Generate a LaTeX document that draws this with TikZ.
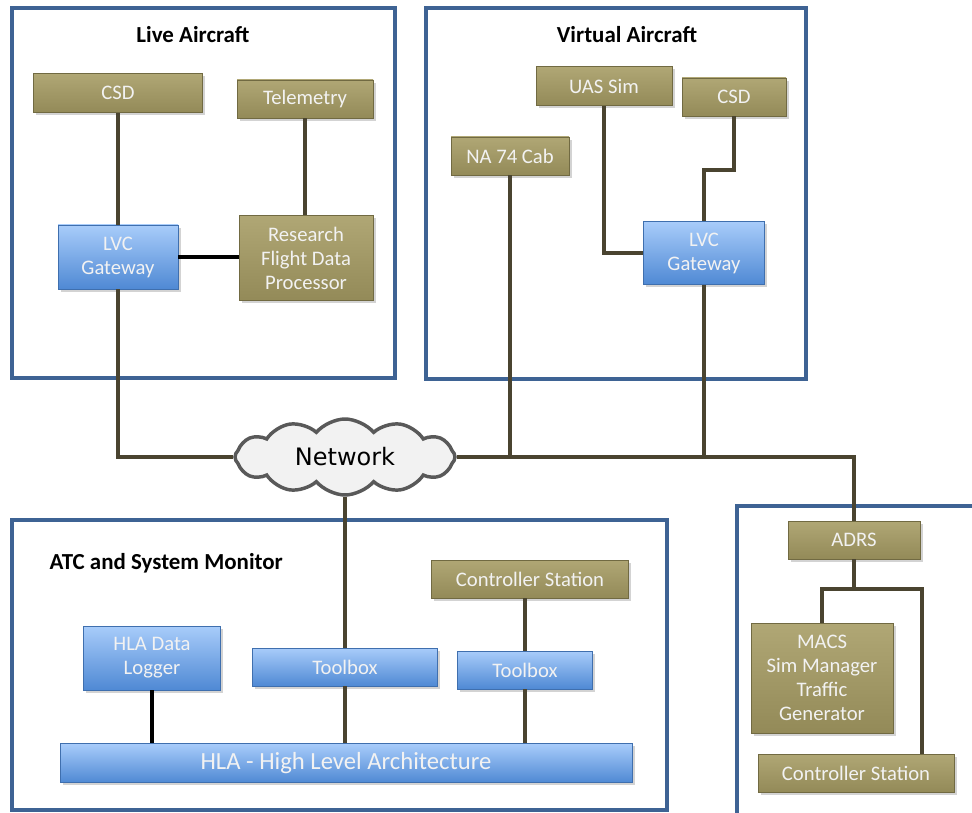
\documentclass[tikz,border=0pt]{standalone}
\usepackage{fontspec}
\setmainfont{Carlito}
\newfontfamily\netfont{DejaVu Sans}
\usetikzlibrary{shapes.symbols,shadows}

\definecolor{panelblue}{HTML}{3E6394}
\definecolor{linkbrown}{HTML}{4A4430}
\definecolor{olivetop}{HTML}{B0A775}
\definecolor{olivemid}{HTML}{9E9661}
\definecolor{olivebot}{HTML}{938A58}
\definecolor{oliveedge}{HTML}{716A42}
\definecolor{bluetop}{HTML}{A8CCFA}
\definecolor{bluemid}{HTML}{7FAEEC}
\definecolor{bluebot}{HTML}{4F89D4}
\definecolor{blueedge}{HTML}{3F6FAE}
\definecolor{cloudgray}{HTML}{595959}

\tikzset{
  panel/.style={draw=panelblue, line width=2.8pt},
  paneltitle/.style={font=\fontsize{17.2}{20}\selectfont\bfseries},
  box/.style={rectangle, align=center, text=white!95!black,
    font=\fontsize{15.5}{18}\selectfont, inner sep=2pt,
    drop shadow={shadow xshift=2pt, shadow yshift=-2pt, opacity=0.35}},
  boxsize/.style 2 args={minimum width=#1*0.75pt, minimum height=#2*0.75pt},
  olivebox/.style={box, draw=oliveedge, line width=0.5pt,
    top color=olivetop, middle color=olivemid, bottom color=olivebot},
  bluebox/.style={box, draw=blueedge, line width=0.5pt,
    top color=bluetop, middle color=bluemid, bottom color=bluebot},
  link/.style={draw=linkbrown, line width=2.4pt},
}

\begin{document}
\begin{tikzpicture}[x=0.75pt,y=-0.75pt]

    \useasboundingbox (0,0) rectangle (972,813);

    % Panels
    \draw[panel] (12,8) rectangle (395,378);
    \draw[panel] (426,8) rectangle (806,379);
    \draw[panel] (12,520) rectangle (667,810);
    \draw[panel] (737,840) -- (737,506) -- (990,506);

    % Panel titles
    \node[paneltitle] (tlive) at (193,35) {Live Aircraft};
    \node[paneltitle] (tvirt) at (627,35) {Virtual Aircraft};
    \node[paneltitle, anchor=west] (tatc) at (45,563) {ATC and System Monitor};

    % Live Aircraft
    \node[olivebox, boxsize={169}{39}] (csdL) at (118,93) {CSD};
    \node[olivebox, boxsize={136}{38}] (telem) at (305,99) {Telemetry};
    \node[bluebox, boxsize={120}{64}] (lvcL) at (118,257) {LVC\\Gateway};
    \node[olivebox, boxsize={134}{85}] (rfdp) at (306,258) {Research\\Flight Data\\Processor};

    % Virtual Aircraft
    \node[olivebox, boxsize={136}{39}] (uas) at (604,86) {UAS Sim};
    \node[olivebox, boxsize={104}{38}] (csdR) at (734,97) {CSD};
    \node[olivebox, boxsize={118}{38}] (na74) at (510,156) {NA 74 Cab};
    \node[bluebox, boxsize={121}{63}] (lvcR) at (704,253) {LVC\\Gateway};
    \coordinate (csdbend) at (734,170);

    % Network
    \node[cloud, draw=cloudgray, fill=gray!10, line width=2.6pt, cloud puffs=12,
      cloud puff arc=100, aspect=2.8, minimum width=220*0.75pt, minimum height=76*0.75pt,
      font=\netfont\fontsize{18}{20}\selectfont] (net) at (345,457) {Network};

    % ATC and System Monitor
    \node[olivebox, boxsize={197}{38}] (ctrlM) at (530,579) {Controller Station};
    \node[bluebox, boxsize={185}{38}] (tbM) at (345,667) {Toolbox};
    \node[bluebox, boxsize={135}{38}] (tbR) at (525,670) {Toolbox};
    \node[bluebox, boxsize={137}{64}] (hlalog) at (152,658) {HLA Data\\Logger};
    \node[bluebox, boxsize={572}{39}, font=\fontsize{18.5}{21}\selectfont] (hla) at (346,763) {HLA - High Level Architecture};

    % Right panel
    \node[olivebox, boxsize={132}{38}] (adrs) at (854,540) {ADRS};
    \node[olivebox, boxsize={142}{110}] (macs) at (822,678) {MACS\\Sim Manager\\Traffic\\Generator};
    \node[olivebox, boxsize={196}{38}] (ctrlR) at (856,773) {Controller Station};
    \coordinate (adrsfork) at (854,589);
    \coordinate (ctrltap) at (922,754);

    % Links
    \draw[link] (csdL.south) -- (lvcL.north);
    \draw[link] (telem.south) -- (telem.south |- rfdp.north);
    \draw[link, draw=black] (lvcL.east) -- (lvcL.east -| rfdp.west);
    \draw[link] (lvcL.south) |- (net.west);

    \draw[link] (uas.south) |- (lvcR.west);
    \draw[link] (csdR.south) -- (csdbend) -| (lvcR.north);
    \draw[link] (na74.south) -- (na74.south |- net.east);
    \draw[link] (lvcR.south) -- (lvcR.south |- net.east);
    \draw[link] (net.east) -| (adrs.north);

    \draw[link] (net.south) -- (tbM.north);
    \draw[link] (tbR.north |- ctrlM.south) -- (tbR.north);
    \draw[link, draw=black, line width=3.4pt] (hlalog.south) -- (hlalog.south |- hla.north);
    \draw[link] (tbM.south) -- (tbM.south |- hla.north);
    \draw[link] (tbR.south) -- (tbR.south |- hla.north);

    \draw[link] (adrs.south) -- (adrsfork);
    \draw[link] (macs.north) |- (adrsfork) -| (ctrltap);
\end{tikzpicture}
\end{document}
